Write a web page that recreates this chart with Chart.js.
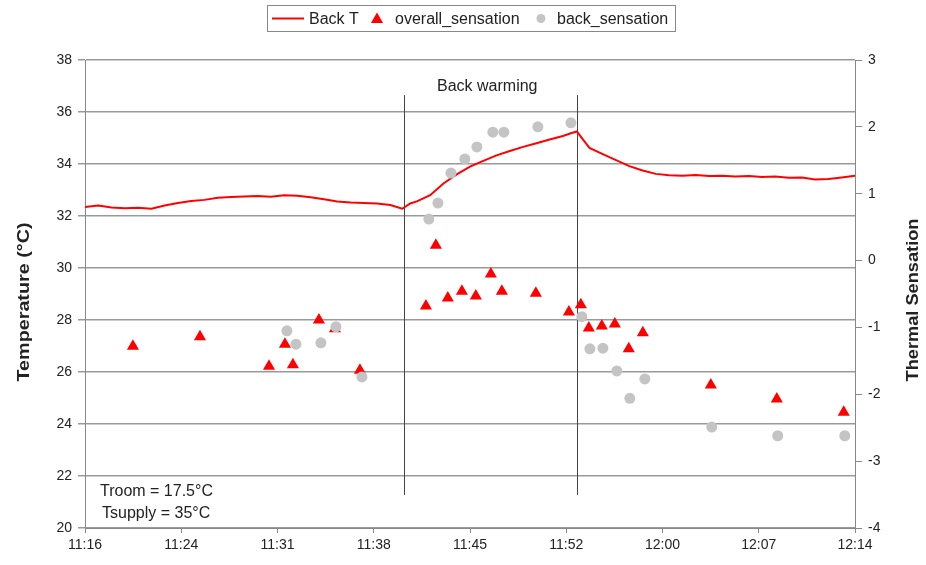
<!DOCTYPE html>
<html>
<head>
<meta charset="utf-8">
<script src="https://cdn.jsdelivr.net/npm/chart.js@4.4.0/dist/chart.umd.min.js"></script>
<style>
  html, body { margin: 0; padding: 0; background: #fff; }
</style>
</head>
<body>
<canvas id="chart" width="926" height="565"></canvas>
<script>
// time axis is minutes after 11:16
const xTickValues = [0, 7.25, 14.5, 21.75, 29, 36.25, 43.5, 50.75, 58];
const xTickLabels = ["11:16", "11:24", "11:31", "11:38", "11:45", "11:52", "12:00", "12:07", "12:14"];

// Back T (skin temperature, left axis)
const backTMinutes = [0, 1, 2, 3, 4, 5, 6, 7, 8, 9, 10, 11, 12, 13, 14, 15, 16, 17, 18, 19, 20, 21, 22, 23, 23.9,
  24.5, 25, 26, 27, 28, 29, 30, 31, 32, 33, 34, 35, 36, 36.6, 37.05, 37.5, 38, 39, 40, 41, 42, 43, 44, 45,
  46, 47, 48, 49, 50, 51, 52, 53, 54, 55, 56, 57, 58];
const backTValues = [32.35, 32.40, 32.33, 32.30, 32.32, 32.28, 32.40, 32.50, 32.58, 32.62, 32.70, 32.73, 32.75,
  32.77, 32.74, 32.80, 32.78, 32.72, 32.64, 32.56, 32.52, 32.50, 32.48, 32.42, 32.28,
  32.48, 32.56, 32.80, 33.25, 33.60, 33.90, 34.12, 34.33, 34.50, 34.66, 34.80, 34.94, 35.08, 35.18, 35.25,
  34.95, 34.62, 34.38, 34.15, 33.92, 33.75, 33.62, 33.57, 33.55, 33.58, 33.54, 33.55, 33.52, 33.54, 33.50,
  33.52, 33.47, 33.48, 33.40, 33.42, 33.48, 33.55];

// overall_sensation (right axis)
const overallMinutes = [3.61, 8.66, 13.86, 15.06, 15.66, 17.62, 18.83, 20.71, 25.68, 26.43, 27.33, 28.39, 29.44,
  30.57, 31.40, 33.96, 36.45, 37.35, 37.95, 38.93, 39.91, 40.96, 42.02, 47.14, 52.11, 57.15];
const overallValues = [-1.28, -1.14, -1.58, -1.25, -1.56, -0.89, -1.02, -1.64, -0.68, 0.23, -0.56, -0.46, -0.53,
  -0.20, -0.46, -0.49, -0.77, -0.66, -1.01, -0.98, -0.95, -1.32, -1.08, -1.86, -2.07, -2.27];

// back_sensation (right axis)
const backSensMinutes = [15.21, 15.89, 17.77, 18.90, 20.86, 25.90, 26.58, 27.56, 28.61, 29.52, 30.72, 31.55,
  34.11, 36.60, 37.42, 38.03, 39.01, 40.06, 41.04, 42.17, 47.21, 52.18, 57.23];
const backSensValues = [-1.05, -1.25, -1.23, -0.99, -1.74, 0.62, 0.86, 1.31, 1.52, 1.70, 1.92, 1.92,
  2.00, 2.06, -0.84, -1.32, -1.31, -1.65, -2.06, -1.77, -2.49, -2.62, -2.62];

// start / end of back warming
const warmingMarks = [24.0, 37.05];
const warmingTop = 36.65;
const warmingBottom = 21.27;

const toPoints = (xs, ys) => xs.map((x, i) => ({ x: x, y: ys[i] }));

const FONT = "'Liberation Sans', Arial, sans-serif";
const TEXT = "#222";

// draws rotated text stretched to a given length, reading bottom to top
function verticalTitle(ctx, text, cx, cy, length) {
  ctx.save();
  ctx.translate(cx, cy);
  ctx.rotate(-Math.PI / 2);
  const w = ctx.measureText(text).width;
  ctx.scale(length / w, 1);
  ctx.fillText(text, 0, 0);
  ctx.restore();
}

const overlay = {
  id: "overlay",
  beforeDatasetsDraw(chart) {
    const { ctx, scales } = chart;
    ctx.save();
    ctx.strokeStyle = "#444";
    ctx.lineWidth = 1;
    warmingMarks.forEach((m) => {
      const x = Math.round(scales.x.getPixelForValue(m)) + 0.5;
      ctx.beginPath();
      ctx.moveTo(x, scales.y.getPixelForValue(warmingTop));
      ctx.lineTo(x, scales.y.getPixelForValue(warmingBottom));
      ctx.stroke();
    });
    ctx.restore();
  },
  afterDraw(chart) {
    const { ctx } = chart;
    ctx.save();
    ctx.fillStyle = TEXT;

    // notes
    ctx.font = "16px " + FONT;
    ctx.textBaseline = "middle";
    ctx.textAlign = "center";
    const midX = (chart.scales.x.getPixelForValue(warmingMarks[0]) + chart.scales.x.getPixelForValue(warmingMarks[1])) / 2;
    ctx.fillText("Back warming", midX - 3, 87);
    ctx.textAlign = "left";
    ctx.fillText("Troom = 17.5°C", 100, 492);
    ctx.fillText("Tsupply = 35°C", 102, 514);

    // axis titles
    ctx.font = "bold 17px " + FONT;
    ctx.textAlign = "center";
    verticalTitle(ctx, "Temperature (°C)", 24, 302, 159);
    verticalTitle(ctx, "Thermal Sensation", 913, 300, 163);

    // legend in a frame
    ctx.font = "16px " + FONT;
    ctx.textAlign = "left";
    const ds = chart.data.datasets;
    const symX = [272, 377, 541];
    const textX = [309, 395, 557];
    const cy = 18.5;
    ctx.strokeStyle = "#888";
    ctx.lineWidth = 1;
    ctx.strokeRect(267.5, 5.5, 408, 26);
    ds.forEach((d, i) => {
      if (d.type === "line") {
        ctx.strokeStyle = d.borderColor;
        ctx.lineWidth = 2;
        ctx.beginPath();
        ctx.moveTo(symX[i], cy);
        ctx.lineTo(symX[i] + 32, cy);
        ctx.stroke();
      } else {
        const cx = symX[i];
        ctx.fillStyle = d.backgroundColor;
        ctx.beginPath();
        if (d.pointStyle === "circle") ctx.arc(cx, cy, d.pointRadius - 1, 0, Math.PI * 2);
        else {
          const r = d.pointRadius;
          ctx.moveTo(cx, cy + 1 - r);
          ctx.lineTo(cx + r * 0.866, cy + 1 + r / 2);
          ctx.lineTo(cx - r * 0.866, cy + 1 + r / 2);
          ctx.closePath();
        }
        ctx.fill();
      }
      ctx.fillStyle = TEXT;
      ctx.fillText(d.label, textX[i], cy + 1);
    });
    ctx.restore();
  }
};

new Chart(document.getElementById("chart"), {
  type: "scatter",
  data: {
    datasets: [
      {
        label: "Back T",
        type: "line",
        data: toPoints(backTMinutes, backTValues),
        yAxisID: "y",
        borderColor: "#ff0000",
        borderWidth: 2,
        pointRadius: 0,
        tension: 0,
        fill: false,
        order: 2
      },
      {
        label: "overall_sensation",
        data: toPoints(overallMinutes, overallValues),
        yAxisID: "y2",
        pointStyle: "triangle",
        pointRadius: 7,
        backgroundColor: "#ff0000",
        borderColor: "#ff0000",
        borderWidth: 0,
        order: 1
      },
      {
        label: "back_sensation",
        data: toPoints(backSensMinutes, backSensValues),
        yAxisID: "y2",
        pointStyle: "circle",
        pointRadius: 5.5,
        backgroundColor: "#c4c4c4",
        borderColor: "#c4c4c4",
        borderWidth: 0,
        order: 0
      }
    ]
  },
  options: {
    responsive: false,
    animation: false,
    layout: { padding: { top: 60, left: 0, right: 0, bottom: 0 } },
    plugins: { legend: { display: false }, tooltip: { enabled: false } },
    scales: {
      x: {
        type: "linear",
        min: 0,
        max: 58,
        afterBuildTicks: (s) => { s.ticks = xTickValues.map((v) => ({ value: v })); },
        afterFit: (s) => { s.height = 37; },
        ticks: {
          autoSkip: false,
          maxRotation: 0,
          padding: 4,
          color: TEXT,
          font: { family: FONT, size: 14 },
          callback: (v, i) => xTickLabels[i]
        },
        grid: { drawOnChartArea: false, drawTicks: true, tickLength: 5, color: "#888" },
        border: { color: "#888" }
      },
      y: {
        position: "left",
        min: 20,
        max: 38,
        afterFit: (s) => { s.width = 85; },
        ticks: { stepSize: 2, padding: 6, color: TEXT, font: { family: FONT, size: 14 } },
        grid: { color: "#999", lineWidth: 1.5, tickLength: 7 },
        border: { color: "#888" }
      },
      y2: {
        position: "right",
        min: -4,
        max: 3,
        afterFit: (s) => { s.width = 71; },
        ticks: { stepSize: 1, padding: 6, color: TEXT, font: { family: FONT, size: 14 } },
        grid: { drawOnChartArea: false, tickLength: 7, color: "#888" },
        border: { color: "#888" }
      }
    }
  },
  plugins: [overlay]
});
</script>
</body>
</html>
